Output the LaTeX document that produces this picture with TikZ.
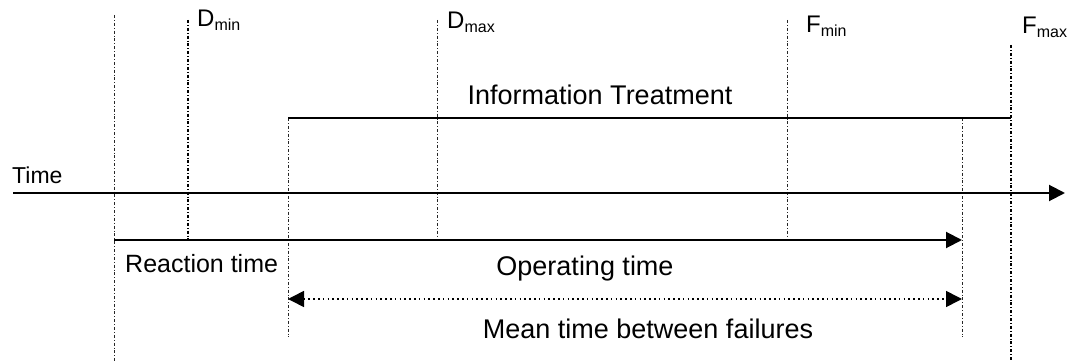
\documentclass[tikz,border=0pt]{standalone}
\usepackage{fontspec}
\setmainfont{Liberation Sans}
\usetikzlibrary{arrows.meta}
\newcommand\subtag[1]{\raisebox{-3.5pt}{\fontsize{16}{16}\selectfont #1}}
\tikzset{
  guide/.style={line width=0.9pt, black!85, dash pattern=on 3pt off 2pt on 0.8pt off 2pt},
  guidebold/.style={guide, line width=1.4pt, black},
  span/.style={line width=2pt},
  tip/.style={-{Triangle[length=16pt,width=16pt]}},
  bothtips/.style={{Triangle[length=16pt,width=16pt]}-{Triangle[length=16pt,width=16pt]}},
  dotline/.style={line width=1.6pt, dash pattern=on 1.6pt off 3.2pt},
  lbl/.style={inner sep=0pt, font=\fontsize{24}{24}\selectfont},
  big/.style={inner sep=0pt, font=\fontsize{27}{27}\selectfont},
}
\begin{document}
\begin{tikzpicture}[x=1pt, y=-1pt]
  \useasboundingbox (0,0) rectangle (1072,361);

  % end points of the vertical guide lines
  \coordinate (g0t) at (114,15);   \coordinate (g0b) at (114,361);
  \coordinate (g1t) at (188,20);   \coordinate (g1b) at (188,240);
  \coordinate (g2t) at (288,118);  \coordinate (g2b) at (288,337);
  \coordinate (g3t) at (437,20);   \coordinate (g3b) at (437,238);
  \coordinate (g4t) at (787,20);   \coordinate (g4b) at (787,238);
  \coordinate (g5t) at (962,118);  \coordinate (g5b) at (962,337);
  \coordinate (g6t) at (1011,45);  \coordinate (g6b) at (1011,361);

  % guide lines
  \draw[guide]     (g0t) -- (g0b);
  \draw[guidebold] (g1t) -- (g1b);
  \draw[guide]     (g2t) -- (g2b);
  \draw[guide]     (g3t) -- (g3b);
  \draw[guide]     (g4t) -- (g4b);
  \draw[guide]     (g5t) -- (g5b);
  \draw[guidebold] (g6t) -- (g6b);

  % time axis
  \coordinate (ts) at (13,193);
  \coordinate (te) at (1065,193);
  \draw[span, tip] (ts) -- (te);

  % information treatment span
  \coordinate (ie) at (1011,118);
  \draw[line width=1.5pt] (g2t) -- (ie);

  % operating time arrow
  \coordinate (os) at (114,240);
  \coordinate (oe) at (962,240);
  \draw[span, tip] (os) -- (oe);

  % mean time between failures
  \coordinate (ms) at (288,299);
  \coordinate (me) at (962,299);
  \draw[dotline, bothtips] (ms) -- (me);

  % labels
  \node[lbl, anchor=base west] (dmin) at (197,27) {D\subtag{min}};
  \node[lbl, anchor=base west] (dmax) at (447,29) {D\subtag{max}};
  \node[lbl, anchor=base west] (fmin) at (806,33) {F\subtag{min}};
  \node[lbl, anchor=base west] (fmax) at (1022,34) {F\subtag{max}};
  \node[big, anchor=base] (info) at (600,105) {Information Treatment};
  \node[lbl, anchor=base west, font=\fontsize{23}{23}\selectfont] (time) at (12,183) {Time};
  \node[lbl, anchor=base west, font=\fontsize{25}{25}\selectfont] (react) at (125,272) {Reaction time};
  \node[big, anchor=base] (oper) at (585,275) {Operating time};
  \node[big, anchor=base] (mtbf) at (648,338) {Mean time between failures};
\end{tikzpicture}
\end{document}
